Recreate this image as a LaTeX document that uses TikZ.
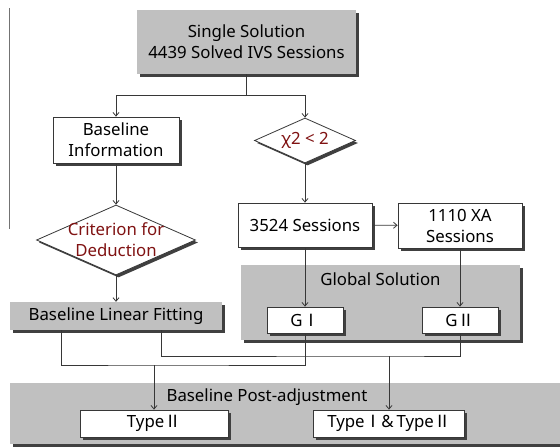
\documentclass[tikz,border=0pt]{standalone}
\usepackage{fontspec}
\setmainfont{Noto Sans}
\newfontfamily\cjk{Noto Sans CJK TC}
\usetikzlibrary{shapes,arrows,positioning,calc,arrows.meta,shadows}
\definecolor{boxgray}{RGB}{192,192,192}
\definecolor{deduct}{RGB}{128,18,18}
\definecolor{edge}{RGB}{55,55,55}
\newcommand{\rmI}{{\cjk Ⅰ}}
\newcommand{\rmII}{{\cjk Ⅱ}}

\begin{document}
\begin{tikzpicture}[
        x=1pt, y=-1pt,
        font=\fontsize{16.8}{21}\selectfont,
        shade/.style={
            drop shadow={shadow xshift=2.5pt, shadow yshift=-2.5pt,
              fill=black!75, opacity=1}
          },
        proc/.style={
            rectangle, draw=edge, line width=0.8pt, fill=white,
            align=center, inner sep=2pt, shade
          },
        stage/.style={
            rectangle, draw=none, fill=boxgray,
            align=center, inner sep=2pt, shade
          },
        decision/.style={
            diamond, draw=edge, line width=0.8pt, fill=white,
            inner sep=0pt, shade
          },
        flow/.style={draw=edge, line width=0.8pt},
        arr/.style={flow, -{Straight Barb[length=3.5pt, width=6pt]}},
      ]
      \useasboundingbox (0,0) rectangle (560,447);

      % Side rule
      \draw [draw=black!55, line width=1pt] (9,8) -- (9,229);

      % Single solution
      \node [stage, minimum width=219pt, minimum height=64pt] (single) at (246.5,42)
        {Single Solution\\4439 Solved IVS Sessions};

      % Left branch
      \node [proc, minimum width=126pt, minimum height=46pt] (info) at (116,140)
        {Baseline\\Information};
      \node [decision, minimum width=159pt, minimum height=70pt,
        label={[text=deduct, align=center]center:Criterion for\\Deduction}]
        (crit) at (116,240) {};
      \node [stage, minimum width=212pt, minimum height=28pt] (fit) at (116,316)
        {Baseline Linear Fitting};

      % Right branch
      \node [decision, minimum width=101pt, minimum height=45pt,
        label={[text=deduct]center:χ2 < 2}] (chi) at (305,140.5) {};
      \node [proc, minimum width=134pt, minimum height=44pt] (sess) at (305,225)
        {3524 Sessions};
      \node [proc, minimum width=124pt, minimum height=45pt] (xa) at (460,225.5)
        {1110 XA\\Sessions};

      % Global solution
      \node [stage, minimum width=279pt, minimum height=75pt,
        label={[anchor=north, yshift=-4pt]north:Global Solution}] (global) at (380.5,302.5) {};
      \node [proc, minimum width=76pt, minimum height=26pt] (gone) at (305,320) {G\rmI};
      \node [proc, minimum width=76pt, minimum height=26pt] (gtwo) at (460,320) {G\rmII};

      % Post-adjustment
      \node [stage, minimum width=552pt, minimum height=61pt,
        label={[anchor=north, xshift=-19pt, yshift=-2pt]north:Baseline Post-adjustment}]
        (post) at (286,413.5) {};
      \node [proc, minimum width=148pt, minimum height=27pt] (tII) at (154,423.5) {Type\rmII};
      \node [proc, minimum width=151pt, minimum height=27pt] (tboth) at (389,423.5)
        {Type\rmI\&\,Type\rmII};

      % Junctions
      \coordinate (split) at (246.5,95);
      \coordinate (joinA) at (154,365);
      \coordinate (joinB) at (389,356);

      % Flow
      \draw [flow] (single) -- (split);
      \draw [arr] (split) -| (info.north);
      \draw [arr] (split) -| (chi.north);
      \draw [arr] (info) -- (crit.north);
      \draw [arr] (crit.south) -- (fit.north);
      \draw [arr] (chi.south) -- (sess.north);
      \draw [arr] (sess) -- (xa);
      \draw [arr] (sess) -- (gone);
      \draw [arr] (xa) -- (gtwo);
      \draw [flow] ([xshift=-55pt]fit.south) |- (joinA) -| (gone.south);
      \draw [flow] ([xshift=45pt]fit.south) |- (joinB) -| (gtwo.south);
      \draw [arr] (joinA) -- (tII.north);
      \draw [arr] (joinB) -- (tboth.north);
    \end{tikzpicture}
\end{document}
